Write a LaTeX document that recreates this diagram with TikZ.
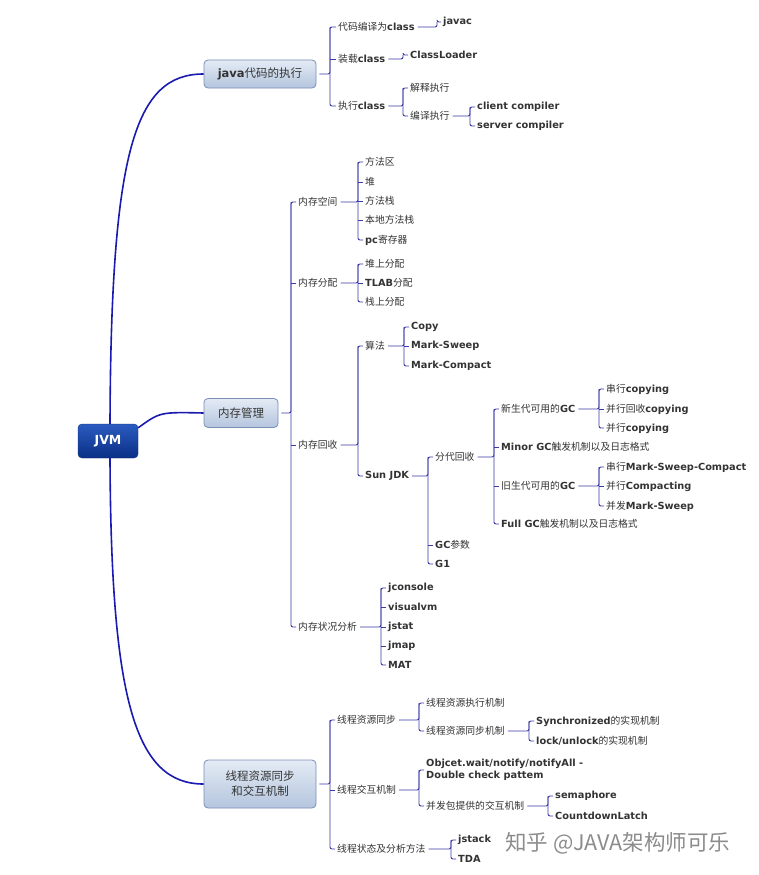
\documentclass[tikz,border=0pt]{standalone}
\usepackage{fontspec}
\setmainfont{Noto Sans CJK SC}
\newfontfamily\vb{DejaVu Sans}
\newcommand\B[1]{{\vb\bfseries #1}}
\usetikzlibrary{calc}
\definecolor{lc}{HTML}{3A3AA8}
\definecolor{tc}{HTML}{333333}
\definecolor{rtA}{HTML}{2A5BC0}
\definecolor{rtB}{HTML}{0B2F85}
\definecolor{rtD}{HTML}{0A2A70}
\definecolor{bxA}{HTML}{E4EBF5}
\definecolor{bxB}{HTML}{B4C5DD}
\definecolor{bxD}{HTML}{7A8FB8}
\definecolor{mn}{HTML}{1A1AB0}
\tikzset{
 t/.style={anchor=west,inner sep=0pt,text=tc,font=\fontsize{9.8}{12}\selectfont},
 ln/.style={draw=lc,line width=0.9pt},
 l1/.style={rounded corners=4pt,draw=bxD,top color=bxA,bottom color=bxB,line width=0.8pt,text=tc,font=\fontsize{11.5}{15}\selectfont,align=center,inner sep=0pt},
 main/.style={draw=mn,line width=1.6pt},
}
\newcommand\grp[4]{%
 \draw[ln,rounded corners=2pt] let \p1=(#3.west),\p2=(#4.west) in ([xshift=-2pt]#3.west) -- (#2pt,\y1) -- (#2pt,\y2) -- ([xshift=-2pt]#4.west);
 \draw[ln,rounded corners=2pt] let \p1=(#1.east),\p2=(#3.west) in ([xshift=3pt]#1.east) -- (#2pt,\y1) -- (#2pt,\y2);}
\newcommand\tk[2]{\draw[ln] let \p1=(#1.west) in (#2pt,\y1) -- ([xshift=-2pt]#1.west);}
\begin{document}
\begin{tikzpicture}[x=1pt,y=-1pt]
\useasboundingbox[fill=white] (0,0) rectangle (759,875);
% root and level 1
\node[rounded corners=4pt,draw=rtD,top color=rtA,bottom color=rtB,minimum width=60pt,minimum height=34pt,text=white,font=\vb\bfseries\fontsize{12.5}{14}\selectfont] (jvm) at (108,441) {JVM};
\node[l1,minimum width=112pt,minimum height=28pt] (java) at (260,74) {\B{java}代码的执行};
\node[l1,minimum width=74pt,minimum height=29pt] (mm) at (241,413) {内存管理};
\node[l1,minimum width=112pt,minimum height=48pt] (th) at (260,784) {线程资源同步\\和交互机制};
\draw[main] ([xshift=2pt]jvm.north) .. controls (111,150) and (135,74) .. (java.west);
\draw[main] ([xshift=2pt]jvm.south) .. controls (111,700) and (135,784) .. (th.west);
\draw[main] ([yshift=-4pt]jvm.north east) .. controls (160,412) .. (mm.west);
% java
\node[t] (a1) at (338,27) {代码编译为\B{class}};
\node[t] (a2) at (338,59) {装载\B{class}};
\node[t] (a3) at (338,106) {执行\B{class}};
\grp{java}{330}{a1}{a3}\tk{a2}{330}
\node[t] (a11) at (443,22) {\B{javac}};\grp{a1}{437}{a11}{a11}
\node[t] (a21) at (410,55) {\B{ClassLoader}};\grp{a2}{403}{a21}{a21}
\node[t] (a31) at (410,88) {解释执行};
\node[t] (a32) at (410,116) {编译执行};\grp{a3}{403}{a31}{a32}
\node[t] (a321) at (477,107) {\B{client compiler}};
\node[t] (a322) at (477,126) {\B{server compiler}};\grp{a32}{470}{a321}{a322}
% memory
\node[t] (b1) at (298,202) {内存空间};
\node[t] (b2) at (298,283) {内存分配};
\node[t] (b3) at (298,445) {内存回收};
\node[t] (b4) at (298,627) {内存状况分析};
\grp{mm}{291}{b1}{b4}\tk{b2}{291}\tk{b3}{291}
\node[t] (b11) at (365,162) {方法区};
\node[t] (b12) at (365,182) {堆};
\node[t] (b13) at (365,201) {方法栈};
\node[t] (b14) at (365,220) {本地方法栈};
\node[t] (b15) at (365,240) {\B{pc}寄存器};
\grp{b1}{358}{b11}{b15}\tk{b12}{358}\tk{b13}{358}\tk{b14}{358}
\node[t] (b21) at (365,264) {堆上分配};
\node[t] (b22) at (365,283) {\B{TLAB}分配};
\node[t] (b23) at (365,302) {栈上分配};
\grp{b2}{358}{b21}{b23}\tk{b22}{358}
\node[t] (b31) at (365,346) {算法};
\node[t] (b32) at (365,476) {\B{Sun JDK}};
\grp{b3}{358}{b31}{b32}
\node[t] (c1) at (411,327) {\B{Copy}};
\node[t] (c2) at (411,346) {\B{Mark-Sweep}};
\node[t] (c3) at (411,366) {\B{Mark-Compact}};
\grp{b31}{404}{c1}{c3}\tk{c2}{404}
\node[t] (d1) at (435,457) {分代回收};
\node[t] (d2) at (435,545) {\B{GC}参数};
\node[t] (d3) at (435,564) {\B{G1}};
\grp{b32}{428}{d1}{d3}\tk{d2}{428}
\node[t] (e1) at (501,409) {新生代可用的\B{GC}};
\node[t] (e2) at (501,447) {\B{Minor GC}触发机制以及日志格式};
\node[t] (e3) at (501,486) {旧生代可用的\B{GC}};
\node[t] (e4) at (501,524) {\B{Full GC}触发机制以及日志格式};
\grp{d1}{494}{e1}{e4}\tk{e2}{494}\tk{e3}{494}
\node[t] (f1) at (606,389) {串行\B{copying}};
\node[t] (f2) at (606,409) {并行回收\B{copying}};
\node[t] (f3) at (606,428) {并行\B{copying}};
\grp{e1}{599}{f1}{f3}\tk{f2}{599}
\node[t] (g1) at (606,467) {串行\B{Mark-Sweep-Compact}};
\node[t] (g2) at (606,486) {并行\B{Compacting}};
\node[t] (g3) at (606,506) {并发\B{Mark-Sweep}};
\grp{e3}{599}{g1}{g3}\tk{g2}{599}
\node[t] (h1) at (388,588) {\B{jconsole}};
\node[t] (h2) at (388,607) {\B{visualvm}};
\node[t] (h3) at (388,627) {\B{jstat}};
\node[t] (h4) at (388,646) {\B{jmap}};
\node[t] (h5) at (388,665) {\B{MAT}};
\grp{b4}{381}{h1}{h5}\tk{h2}{381}\tk{h3}{381}\tk{h4}{381}
% threads
\node[t] (k1) at (337,720) {线程资源同步};
\node[t] (k2) at (337,790) {线程交互机制};
\node[t] (k3) at (337,849) {线程状态及分析方法};
\grp{th}{330}{k1}{k3}\tk{k2}{330}
\node[t] (k11) at (426,703) {线程资源执行机制};
\node[t] (k12) at (426,731) {线程资源同步机制};
\grp{k1}{419}{k11}{k12}
\node[t] (k121) at (536,721) {\B{Synchronized}的实现机制};
\node[t] (k122) at (536,741) {\B{lock/unlock}的实现机制};
\grp{k12}{529}{k121}{k122}
\node[t,align=left] (k21) at (426,770) {\B{Objcet.wait/notify/notifyAll -}\\\B{Double check pattem}};
\node[t] (k22) at (426,806) {并发包提供的交互机制};
\grp{k2}{419}{k21}{k22}
\node[t] (k221) at (555,796) {\B{semaphore}};
\node[t] (k222) at (555,816) {\B{CountdownLatch}};
\grp{k22}{548}{k221}{k222}
\node[t] (k31) at (458,840) {\B{jstack}};
\node[t] (k32) at (458,859) {\B{TDA}};
\grp{k3}{451}{k31}{k32}
\node[anchor=west,inner sep=0pt,text=black!45,font=\fontsize{21.5}{26}\selectfont] (wm) at (505,843) {知乎 @JAVA架构师可乐};
\end{tikzpicture}
\end{document}
